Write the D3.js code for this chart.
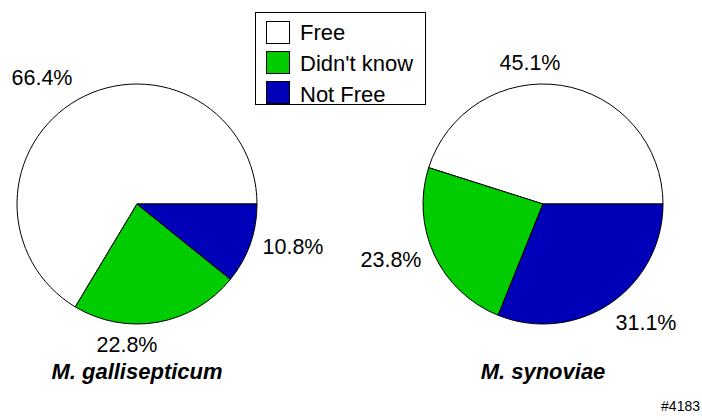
<!DOCTYPE html>
<html><head><meta charset="utf-8">
<script src="https://cdn.jsdelivr.net/npm/d3@7"></script>
<style>body{margin:0;background:#fff}svg{display:block}</style>
</head><body>
<script>
const categories = ["Free", "Didn't know", "Not Free"];
const colors = ["#ffffff", "#00cc00", "#0000b8"];
const pieTitles = ["M. gallisepticum", "M. synoviae"];
const gallisepticum = [66.4, 22.8, 10.8];
const synoviae = [45.1, 23.8, 31.1];
const labelPos1 = [[42, 85], [127, 352], [293, 254]];
const labelPos2 = [[530, 70], [391, 267], [646, 330]];

const W = 702, H = 420;
const svg = d3.select("body").append("svg").attr("width", W).attr("height", H);
const font = "Arial, 'Liberation Sans', sans-serif";

const pie = d3.pie().sort(null).value(d => d)
  .startAngle(Math.PI / 2).endAngle(Math.PI / 2 - 2 * Math.PI);
const r = 120;
const arc = d3.arc().innerRadius(0).outerRadius(r);

function drawPie(cx, cy, data, labels, title) {
  const g = svg.append("g").attr("transform", `translate(${cx},${cy})`);
  g.selectAll("path").data(pie(data)).enter().append("path")
    .attr("d", arc).attr("fill", (d, i) => colors[i])
    .attr("stroke", "#000").attr("stroke-width", 1);
  svg.selectAll(null).data(data).enter().append("text")
    .attr("x", (d, i) => labels[i][0]).attr("y", (d, i) => labels[i][1])
    .attr("text-anchor", "middle").attr("font-family", font).attr("font-size", 21.5)
    .text(d => d.toFixed(1) + "%");
  svg.append("text").attr("x", cx).attr("y", 379).attr("text-anchor", "middle")
    .attr("font-family", font).attr("font-size", 22).attr("font-weight", "bold")
    .attr("font-style", "italic").text(title);
}
drawPie(137, 204, gallisepticum, labelPos1, pieTitles[0]);
drawPie(543, 204, synoviae, labelPos2, pieTitles[1]);

// legend
const lg = svg.append("g");
lg.append("rect").attr("x", 255.5).attr("y", 12.5).attr("width", 170).attr("height", 92)
  .attr("fill", "#fff").attr("stroke", "#000").attr("stroke-width", 1);
categories.forEach((c, i) => {
  lg.append("rect").attr("x", 266.5).attr("y", 21.5 + i * 30).attr("width", 23).attr("height", 22)
    .attr("fill", colors[i]).attr("stroke", "#000").attr("stroke-width", 1);
  lg.append("text").attr("x", 300).attr("y", 40 + i * 31).attr("font-family", font)
    .attr("font-size", 22).text(c);
});

svg.append("text").attr("x", 700).attr("y", 411).attr("text-anchor", "end")
  .attr("font-family", font).attr("font-size", 14).text("#4183");
</script>
</body></html>
